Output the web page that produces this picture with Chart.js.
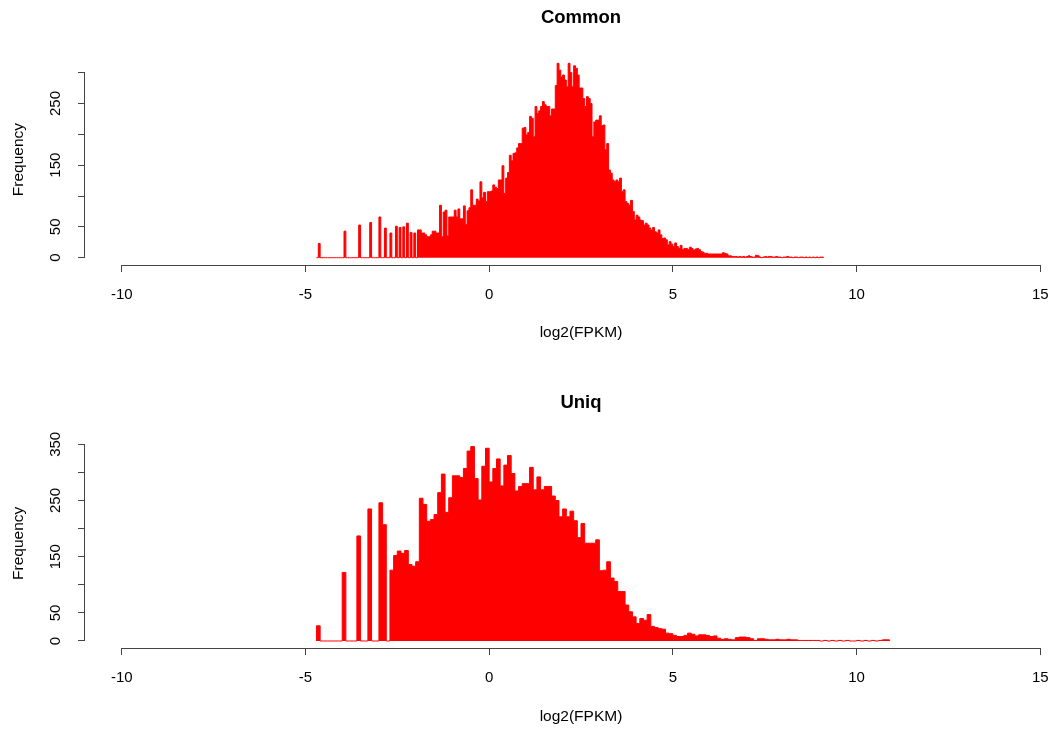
<!DOCTYPE html>
<html>
<head>
<meta charset="utf-8">
<title>Common / Uniq</title>
<script src="https://cdn.jsdelivr.net/npm/chart.js@4.4.1/dist/chart.umd.min.js"></script>
<style>
	html, body { margin: 0; padding: 0; background: #fff; overflow: hidden; }
	canvas { display: block; }
</style>
</head>
<body>
<canvas id="commonChart" width="1077" height="364"></canvas>
<canvas id="uniqChart" width="1077" height="365"></canvas>
<script>
'use strict'

//x axis ticks
const xTicks = [-10, -5, 0, 5, 10, 15];

//Common : bins of 0.05 from -4.7
const commonStart = -4.7;
const commonBinWidth = 0.05;
const commonCounts = [
	0, 23, 0, 0, 0, 0, 0, 0, 0, 0,
	0, 0, 0, 0, 0, 43, 0, 0, 0, 0,
	0, 0, 0, 53, 0, 0, 0, 0, 0, 57,
	0, 0, 0, 0, 66, 0, 0, 48, 0, 0,
	40, 0, 0, 51, 0, 49, 0, 50, 0, 56,
	0, 41, 0, 40, 0,
	45, 45, 40, 40, 37, 34, 34, 37, 43, 43,
	40, 40, 85, 34, 74, 77, 35, 66, 66, 66,
	77, 66, 79, 63, 63, 84, 54, 76, 81, 110,
	85, 85, 95, 92, 123, 97, 106, 91, 107, 107,
	108, 118, 114, 112, 126, 126, 149, 104, 129, 138,
	166, 157, 169, 170, 178, 185, 185, 210, 211, 199,
	203, 229, 226, 196, 245, 234, 238, 245, 253, 248,
	245, 245, 230, 241, 241, 279, 315, 304, 293, 296,
	288, 277, 315, 300, 277, 311, 307, 296, 275, 275,
	258, 245, 261, 258, 250, 196, 220, 223, 223, 230,
	214, 215, 175, 185, 142, 137, 126, 123, 126, 123,
	129, 107, 110, 91, 88, 85, 93, 75, 61, 69,
	66, 61, 60, 53, 56, 53, 48, 45, 49, 42,
	40, 45, 37, 31, 32, 29, 21, 26, 22, 18,
	24, 18, 15, 20, 13, 15,
	15, 13, 17, 15, 12, 14, 15, 13,
	10, 9, 7, 7, 6, 6, 6, 6, 6, 6,
	6, 6, 8, 7, 6, 3, 3, 2, 2, 2,
	1, 2, 1, 2, 1, 2, 3, 2, 1, 1,
	4, 3, 1, 0, 1, 2, 1, 2, 2, 1,
	1, 2, 1, 1, 0, 1, 1, 2, 1, 1,
	0, 1, 1, 0, 1, 1, 0, 1, 0, 1,
	0, 1, 0, 1, 0, 1, 1
];
//Common y axis
const commonYTop = 300;
const commonYLabels = [0, 50, 150, 250];

//Uniq : bins of 0.1 from -4.7
const uniqStart = -4.7;
const uniqBinWidth = 0.1;
const uniqCounts = [
	27, 0, 0, 0, 0, 0, 0, 122, 0, 0,
	0, 187, 0, 0, 235, 0, 0, 246, 207, 0,
	126, 152, 160, 156, 161, 136, 133, 141, 254, 243,
	213, 216, 225, 264, 297, 229, 255, 294, 294, 291,
	307, 338, 346, 289, 251, 311, 343, 283, 307, 324,
	276, 313, 330, 298, 267, 275, 280, 280, 309, 269,
	292, 269, 275, 275, 258, 250, 221, 235, 221, 231,
	214, 184, 209, 174, 174, 174, 180, 125, 126, 141,
	112, 106, 88, 88, 64, 52, 43, 31, 40, 37,
	47, 26, 24, 22, 21, 14, 13, 10, 8, 8,
	10, 14, 12, 9, 11, 11, 10, 8, 9, 5,
	3, 4, 3, 2, 6, 7, 7, 6, 4, 1,
	4, 4, 3, 2, 2, 3, 2, 2, 3, 2,
	2, 1, 1, 1, 1, 1, 1, 0, 1, 0,
	1, 0, 1, 0, 1, 0, 0, 1, 0, 1,
	0, 1, 0, 1, 2, 2
];
//Uniq y axis
const uniqYTop = 350;
const uniqYLabels = [0, 50, 150, 250, 350];

Chart.defaults.font.family = '"Liberation Sans", Arial, Helvetica, sans-serif';
Chart.defaults.color = '#000';

// =====================================================================================================

//histogram outline points (left edge of each bin)
function histPoints(start, width, counts){
	let pts = [{x: start, y: 0}];
	counts.forEach((c, i) => {
		pts.push({x: +(start + i * width).toFixed(2), y: c});
	});
	pts.push({x: +(start + counts.length * width).toFixed(2), y: 0});
	return pts;
}

//R style axis lines + rotated y labels
const rAxes = {
	id: 'rAxes',
	afterDraw(chart, args, opts){
		const ctx = chart.ctx;
		const xs = chart.scales.x;
		const ys = chart.scales.y;
		ctx.save();
		ctx.strokeStyle = '#444';
		ctx.lineWidth = 1;
		ctx.beginPath();
		ctx.moveTo(xs.getPixelForValue(xTicks[0]), Math.round(ys.bottom) + 0.5);
		ctx.lineTo(xs.getPixelForValue(xTicks[xTicks.length - 1]), Math.round(ys.bottom) + 0.5);
		ctx.moveTo(Math.round(xs.left) - 0.5, ys.getPixelForValue(0));
		ctx.lineTo(Math.round(xs.left) - 0.5, ys.getPixelForValue(opts.top));
		ctx.stroke();

		ctx.fillStyle = '#000';
		ctx.font = '15px "Liberation Sans", Arial, sans-serif';
		ctx.textAlign = 'center';
		ctx.textBaseline = 'middle';
		opts.labels.forEach((v) => {
			ctx.save();
			ctx.translate(56, ys.getPixelForValue(v));
			ctx.rotate(-Math.PI / 2);
			ctx.fillText(String(v), 0, 0);
			ctx.restore();
		});
		ctx.restore();
	}
};

function makeChart(id, title, pts, yMin, yMax, yTop, yLabels, titlePad, xHeight, xTitlePad){
	return new Chart(document.getElementById(id), {
		type: 'line',
		data: {
			datasets: [{
				data: pts,
				stepped: 'before',
				borderColor: '#ff0000',
				backgroundColor: '#ff0000',
				borderWidth: 1,
				pointRadius: 0,
				fill: 'origin'
			}]
		},
		options: {
			responsive: false,
			animation: false,
			devicePixelRatio: 1,
			layout: { padding: 0 },
			plugins: {
				legend: { display: false },
				tooltip: { enabled: false },
				title: {
					display: true,
					text: title,
					fullSize: false,
					font: { size: 18.5, weight: 'bold' },
					padding: titlePad
				},
				rAxes: { top: yTop, labels: yLabels }
			},
			scales: {
				x: {
					type: 'linear',
					min: -11,
					max: 16,
					border: { display: false },
					grid: { drawOnChartArea: false, drawTicks: true, tickLength: 7, color: '#444' },
					ticks: { stepSize: 5, includeBounds: false, padding: 14, font: { size: 15 }, maxRotation: 0 },
					title: { display: true, text: 'log2(FPKM)', font: { size: 15.5 }, padding: { top: 0, bottom: xTitlePad } },
					afterFit: function(scale){
						scale.height = xHeight;
						scale.paddingLeft = 0;
						scale.paddingRight = 0;
					}
				},
				y: {
					min: yMin,
					max: yMax,
					border: { display: false },
					grid: { drawOnChartArea: false, drawTicks: true, tickLength: 7, color: '#444' },
					ticks: { stepSize: 50, includeBounds: false, display: false },
					title: { display: true, text: 'Frequency', font: { size: 15.5 }, padding: { top: 9, bottom: 0 } },
					afterFit: function(scale){
						scale.width = 85;
						scale.paddingTop = 0;
						scale.paddingBottom = 0;
					}
				}
			}
		},
		plugins: [rAxes]
	});
}

//Common
makeChart('commonChart', 'Common', histPoints(commonStart, commonBinWidth, commonCounts),
	-11.83, 330, commonYTop, commonYLabels, { top: 6.9, bottom: 25 }, 99, 21.7);
//Uniq
makeChart('uniqChart', 'Uniq', histPoints(uniqStart, uniqBinWidth, uniqCounts),
	-12.46, 360, uniqYTop, uniqYLabels, { top: 27.9, bottom: 24.6 }, 81, 2.7);
</script>
</body>
</html>
